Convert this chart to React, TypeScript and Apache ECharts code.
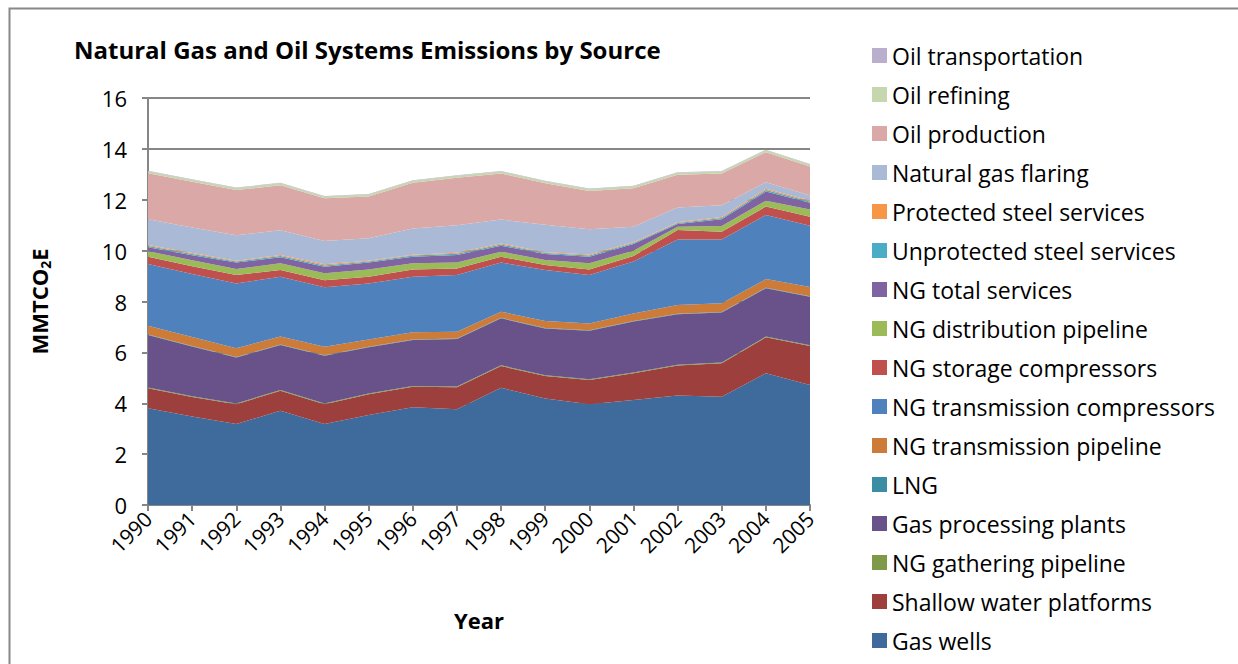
import React, { useEffect, useRef } from "react";
import * as echarts from "echarts";

const years = ["1990","1991","1992","1993","1994","1995","1996","1997","1998","1999","2000","2001","2002","2003","2004","2005"];

const gasWells = [3.80, 3.48, 3.18, 3.71, 3.18, 3.54, 3.84, 3.76, 4.61, 4.19, 3.96, 4.13, 4.30, 4.26, 5.18, 4.72];
const shallowWater = [0.79, 0.77, 0.78, 0.78, 0.78, 0.81, 0.81, 0.87, 0.85, 0.88, 0.95, 1.05, 1.18, 1.31, 1.41, 1.53];
const gatheringPipeline = [0.03, 0.03, 0.03, 0.03, 0.03, 0.03, 0.03, 0.03, 0.03, 0.03, 0.03, 0.03, 0.03, 0.03, 0.03, 0.03];
const processingPlants = [2.06, 1.95, 1.81, 1.77, 1.88, 1.82, 1.81, 1.87, 1.85, 1.84, 1.91, 2.00, 1.99, 1.97, 1.90, 1.91];
const lng = [0.02, 0.02, 0.02, 0.02, 0.02, 0.02, 0.02, 0.02, 0.02, 0.02, 0.02, 0.02, 0.02, 0.02, 0.02, 0.02];
const transmissionPipeline = [0.35, 0.35, 0.34, 0.31, 0.33, 0.29, 0.28, 0.26, 0.24, 0.27, 0.27, 0.30, 0.34, 0.34, 0.34, 0.36];
const transmissionCompressors = [2.42, 2.48, 2.55, 2.35, 2.34, 2.20, 2.18, 2.23, 1.93, 2.01, 1.90, 2.04, 2.58, 2.51, 2.52, 2.41];
const storageCompressors = [0.29, 0.31, 0.33, 0.27, 0.28, 0.26, 0.29, 0.26, 0.23, 0.19, 0.22, 0.22, 0.37, 0.30, 0.33, 0.35];
const distributionPipeline = [0.22, 0.23, 0.24, 0.26, 0.27, 0.29, 0.24, 0.23, 0.20, 0.20, 0.24, 0.21, 0.13, 0.23, 0.23, 0.29];
const totalServices = [0.15, 0.20, 0.25, 0.24, 0.26, 0.27, 0.26, 0.30, 0.23, 0.24, 0.26, 0.26, 0.11, 0.26, 0.36, 0.26];
const unprotectedSteel = [0.05, 0.05, 0.04, 0.05, 0.05, 0.04, 0.05, 0.05, 0.05, 0.04, 0.05, 0.04, 0.04, 0.05, 0.06, 0.05];
const protectedSteel = [0.04, 0.04, 0.03, 0.04, 0.04, 0.03, 0.03, 0.04, 0.04, 0.03, 0.04, 0.03, 0.03, 0.04, 0.05, 0.04];
const gasFlaring = [1.01, 1.00, 1.00, 0.97, 0.92, 0.89, 1.03, 1.08, 0.94, 1.08, 0.99, 0.61, 0.58, 0.46, 0.26, 0.20];
const oilProduction = [1.81, 1.80, 1.78, 1.77, 1.68, 1.64, 1.80, 1.86, 1.81, 1.63, 1.50, 1.51, 1.28, 1.25, 1.18, 1.14];
const oilRefining = [0.08, 0.08, 0.08, 0.08, 0.07, 0.08, 0.08, 0.08, 0.08, 0.08, 0.08, 0.08, 0.08, 0.08, 0.08, 0.08];
const oilTransportation = [0.02, 0.02, 0.02, 0.02, 0.02, 0.02, 0.02, 0.02, 0.02, 0.02, 0.02, 0.02, 0.02, 0.02, 0.02, 0.02];

const seriesNames = [
  "Gas wells", "Shallow water platforms", "NG gathering pipeline", "Gas processing plants", "LNG",
  "NG transmission pipeline", "NG transmission compressors", "NG storage compressors", "NG distribution pipeline",
  "NG total services", "Unprotected steel services", "Protected steel services", "Natural gas flaring",
  "Oil production", "Oil refining", "Oil transportation",
];
const seriesData = [
  gasWells, shallowWater, gatheringPipeline, processingPlants, lng, transmissionPipeline, transmissionCompressors,
  storageCompressors, distributionPipeline, totalServices, unprotectedSteel, protectedSteel, gasFlaring,
  oilProduction, oilRefining, oilTransportation,
];
const seriesColors = [
  "#3E6A9C", "#9C3F3D", "#7E9A48", "#69528A", "#3A8DA3", "#CC7B38", "#4F81BD", "#C0504D", "#9BBB59",
  "#8064A2", "#4BACC6", "#F79646", "#AAB9D6", "#DAA8A7", "#C6D7AE", "#B9AECB",
];

const FONT = "'Open Sans', 'Noto Sans', sans-serif";

export default function App() {
  const ref = useRef<HTMLDivElement>(null);
  useEffect(() => {
    if (!ref.current) return;
    const chart = echarts.init(ref.current, null, { renderer: "svg" });
    chart.setOption({
      animation: false,
      backgroundColor: "#ffffff",
      title: {
        text: "Natural Gas and Oil Systems Emissions by Source",
        left: 69,
        top: 32,
        textStyle: { fontFamily: FONT, fontSize: 24, fontWeight: "bold", color: "#000" },
      },
      legend: {
        orient: "vertical",
        left: 867,
        top: 39,
        height: 640,
        itemWidth: 15,
        itemHeight: 15,
        itemGap: 16,
        icon: "rect",
        data: seriesNames.slice().reverse(),
        textStyle: { fontFamily: FONT, fontSize: 23, color: "#000", padding: [0, 0, 0, 0] },
      },
      grid: { left: 148, right: 428, top: 98, bottom: 159, containLabel: false },
      xAxis: {
        type: "category",
        data: years,
        boundaryGap: false,
        name: "Year",
        nameLocation: "middle",
        nameGap: 104,
        nameTextStyle: { fontFamily: FONT, fontSize: 22, fontWeight: "bold", color: "#000" },
        axisLine: { lineStyle: { color: "#868686", width: 2 } },
        axisTick: { show: true, length: 6, lineStyle: { color: "#868686", width: 2 } },
        axisLabel: { rotate: 45, fontFamily: FONT, fontSize: 21, color: "#000", margin: 10 },
      },
      yAxis: {
        type: "value",
        min: 0,
        max: 16,
        interval: 2,
        name: "MMTCO{sub|2}E",
        nameLocation: "middle",
        nameGap: 96,
        nameRotate: 90,
        nameTextStyle: {
          fontFamily: FONT, fontSize: 22, fontWeight: "bold", color: "#000",
          rich: { sub: { fontFamily: FONT, fontSize: 14, fontWeight: "bold", color: "#000", verticalAlign: "bottom", padding: [12, 0, 0, 0] } },
        },
        axisLine: { show: true, lineStyle: { color: "#868686", width: 2 } },
        axisTick: { show: true, length: 6, lineStyle: { color: "#868686", width: 2 } },
        splitLine: { lineStyle: { color: "#868686", width: 2 } },
        axisLabel: { fontFamily: FONT, fontSize: 22, color: "#000", margin: 21 },
      },
      graphic: [
        {
          type: "rect",
          shape: { x: 9.5, y: 8.5, width: 1300, height: 700 },
          style: { fill: "none", stroke: "#888888", lineWidth: 2 },
          silent: true,
          z: 100,
        },
      ],
      series: seriesNames.map((name, i) => ({
        name,
        type: "line",
        stack: "total",
        data: seriesData[i],
        symbol: "none",
        showSymbol: false,
        lineStyle: { width: 0 },
        itemStyle: { color: seriesColors[i] },
        areaStyle: { color: seriesColors[i], opacity: 1 },
        emphasis: { disabled: true },
      })),
    });
    return () => chart.dispose();
  }, []);
  return <div ref={ref} style={{ position: "absolute", left: 0, top: 0, width: 1238, height: 664 }} />;
}
